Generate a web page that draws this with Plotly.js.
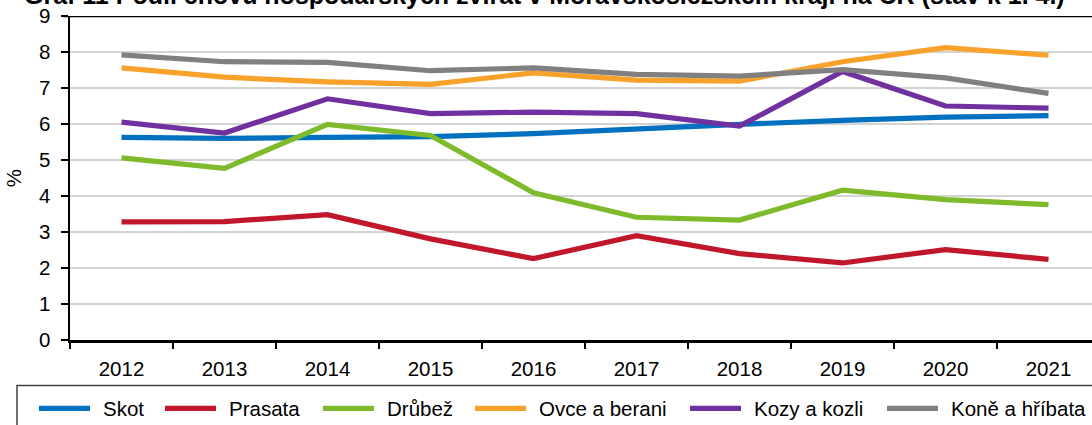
<!DOCTYPE html>
<html>
<head>
<meta charset="utf-8">
<script src="https://cdn.plot.ly/plotly-3.0.1.min.js"></script>
<style>
html,body{margin:0;padding:0;overflow:hidden;background:#fff;}
#chart{width:1092px;height:425px;}
</style>
</head>
<body>
<div id="chart"></div>
<script>
// ---- data ----
const years = ['2012','2013','2014','2015','2016','2017','2018','2019','2020','2021'];
const seriesNames = ['Skot','Prasata','Drůbež','Ovce a berani','Kozy a kozli','Koně a hříbata'];
const skot    = [5.63, 5.60, 5.63, 5.65, 5.73, 5.87, 5.99, 6.10, 6.19, 6.23];
const prasata = [3.28, 3.29, 3.48, 2.81, 2.26, 2.90, 2.40, 2.14, 2.51, 2.24];
const drubez  = [5.06, 4.77, 5.99, 5.68, 4.09, 3.41, 3.33, 4.16, 3.90, 3.76];
const ovce    = [7.56, 7.30, 7.17, 7.10, 7.42, 7.22, 7.19, 7.73, 8.12, 7.91];
const kozy    = [6.05, 5.75, 6.70, 6.29, 6.33, 6.29, 5.94, 7.46, 6.50, 6.44];
const kone    = [7.92, 7.73, 7.71, 7.48, 7.56, 7.38, 7.33, 7.51, 7.28, 6.85];
const yTicks  = [0,1,2,3,4,5,6,7,8,9];
const titleText = 'Graf 11 Podíl chovu hospodářských zvířat v Moravskoslezském kraji na ČR (stav k 1. 4.)';
const yTitle = '%';

// ---- styling ----
const values = [skot, prasata, drubez, ovce, kozy, kone];
const colors = ['#0070C0','#C0182A','#7DBA2C','#F9A22B','#7030A0','#808080'];
const FONT = 'Liberation Sans, Arial, sans-serif';
const FS = 20.5;

const W = 1092, H = 425;
const mL = 70, mR = 0, mT = 16.3, mB = H - 340.5;
const plotW = W - mL - mR, plotH = H - mT - mB;
const px2x = p => (p - mL) / plotW;
const px2y = p => (H - mB - p) / plotH;

const traces = values.map((v, i) => ({
  type: 'scatter', mode: 'lines', x: years, y: v, name: seriesNames[i],
  line: {color: colors[i], width: 5.2}, showlegend: false, hoverinfo: 'skip'
}));

// legend (custom, drawn in paper space)
const legendLineX = [37, 163, 321, 473, 688, 885];
const legendY = 409;
const shapes = [
  {type:'line', xref:'paper', yref:'y', x0:px2x(63), x1:1, y0:9, y1:9,
   line:{color:'#000', width:2.5}, layer:'above'},
  {type:'rect', xref:'paper', yref:'paper', x0:px2x(17), x1:px2x(1200), y0:px2y(386), y1:px2y(440),
   line:{color:'#404040', width:1.5}, fillcolor:'rgba(0,0,0,0)'}
];
const annotations = [
  {xref:'paper', yref:'paper', x:px2x(22), y:1, xanchor:'left', yanchor:'bottom', yshift:5,
   text:'<b>'+titleText+'</b>', showarrow:false, font:{family:FONT, size:25, color:'#000'}}
];
seriesNames.forEach((n, i) => {
  shapes.push({type:'line', xref:'paper', yref:'paper',
    x0:px2x(legendLineX[i]+2), x1:px2x(legendLineX[i]+53), y0:px2y(legendY), y1:px2y(legendY),
    line:{color:colors[i], width:5.2}});
  annotations.push({xref:'paper', yref:'paper', x:px2x(legendLineX[i]+64), y:px2y(legendY),
    xanchor:'left', yanchor:'middle', text:n, showarrow:false,
    font:{family:FONT, size:FS, color:'#000'}});
});

const layout = {
  width: W, height: H,
  margin: {l:mL, r:mR, t:mT, b:mB, pad:0},
  paper_bgcolor:'#fff', plot_bgcolor:'#fff',
  font: {family:FONT, size:FS, color:'#000'},
  showlegend:false,
  xaxis: {
    type:'category', range:[-0.5, -0.5 + plotW/103], tickson:'boundaries',
    showgrid:false, zeroline:false, showline:true, linecolor:'#000', linewidth:2.5,
    ticks:'outside', ticklen:6, tickwidth:1.5, tickcolor:'#000',
    ticklabelstandoff:9, tickfont:{family:FONT, size:FS, color:'#000'}, fixedrange:true
  },
  yaxis: {
    range:[0,9], tickvals:yTicks, ticktext:yTicks.map(String),
    showgrid:true, gridcolor:'#d4d4d4', gridwidth:1.5, zeroline:false,
    showline:true, linecolor:'#000', linewidth:2.5,
    ticks:'outside', ticklen:7, tickwidth:1.5, tickcolor:'#000',
    ticklabelstandoff:6, tickfont:{family:FONT, size:FS, color:'#000'},
    title:{text:yTitle, font:{family:FONT, size:FS, color:'#000'}, standoff:12}, fixedrange:true
  },
  shapes: shapes,
  annotations: annotations
};

Plotly.newPlot('chart', traces, layout, {displayModeBar:false, staticPlot:true});
</script>
</body>
</html>
